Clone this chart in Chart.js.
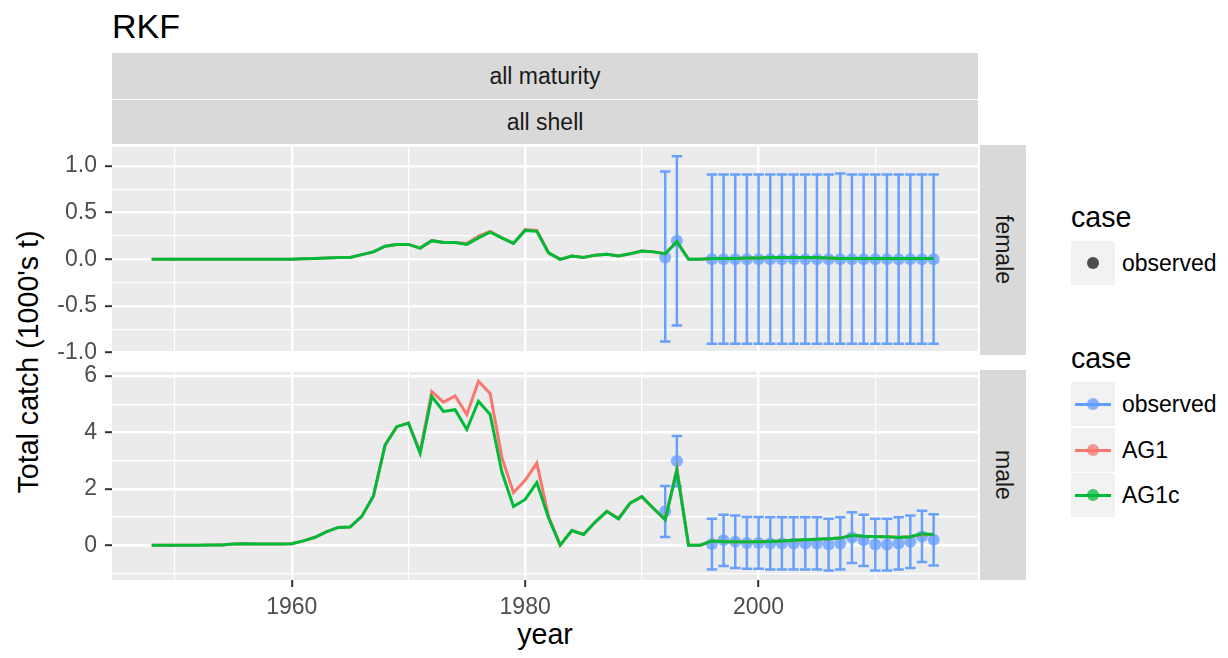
<!DOCTYPE html>
<html><head><meta charset="utf-8">
<script src="https://cdn.jsdelivr.net/npm/chart.js@4.4.1/dist/chart.umd.min.js"></script>
<style>
html,body{margin:0;padding:0;background:#fff;}
body{width:1228px;height:658px;position:relative;overflow:hidden;font-family:"Liberation Sans",Arial,Helvetica,sans-serif;}
canvas{position:absolute;left:0;}
.t{position:absolute;white-space:nowrap;}
.strip{position:absolute;background:#D9D9D9;color:#1A1A1A;font-size:23px;text-align:center;}
.vstrip{display:flex;align-items:center;justify-content:center;writing-mode:vertical-rl;}
.key{position:absolute;left:1071px;width:44px;height:44px;background:#F2F2F2;}
.kline{position:absolute;left:4px;width:36px;top:20.5px;height:3px;}
.kdot{position:absolute;left:16px;top:16px;width:12px;height:12px;border-radius:50%;}
.ltxt{position:absolute;left:1122px;font-size:23px;color:#000;line-height:30px;}
.ltitle{position:absolute;left:1071px;font-size:28.6px;color:#000;line-height:34px;}
</style></head><body>
<div class="t" style="left:112px;top:8px;font-size:34px;line-height:36px;color:#000">RKF</div>
<div class="strip" style="left:112px;top:53px;width:866px;height:46px;line-height:46px">all maturity</div>
<div class="strip" style="left:112px;top:100px;width:866px;height:44px;line-height:44px">all shell</div>
<div class="strip vstrip" style="left:980px;top:145px;width:46px;height:210px">female</div>
<div class="strip vstrip" style="left:980px;top:370px;width:46px;height:210px">male</div>
<div class="t" style="left:28px;top:362px;transform:translate(-50%,-50%) rotate(-90deg);font-size:28.6px;line-height:34px;color:#000">Total catch (1000's t)</div>
<div class="t" style="left:545px;top:634px;transform:translate(-50%,-50%);font-size:28.6px;line-height:34px;color:#000">year</div>

<div class="ltitle" style="top:200px">case</div>
<div class="key" style="top:241px"><div class="kdot" style="background:#4D4D4D"></div></div>
<div class="ltxt" style="top:248px">observed</div>

<div class="ltitle" style="top:341px">case</div>
<div class="key" style="top:382px"><div class="kline" style="background:#619CFF"></div><div class="kdot" style="background:rgba(97,156,255,0.75)"></div></div>
<div class="ltxt" style="top:389px">observed</div>
<div class="key" style="top:428px"><div class="kline" style="background:#F8766D"></div><div class="kdot" style="background:rgba(248,118,109,0.75)"></div></div>
<div class="ltxt" style="top:435px">AG1</div>
<div class="key" style="top:473px"><div class="kline" style="background:#00BA38"></div><div class="kdot" style="background:rgba(0,186,56,0.75)"></div></div>
<div class="ltxt" style="top:480px">AG1c</div>

<canvas id="female" width="978" height="250" style="top:125px"></canvas>
<canvas id="male" width="978" height="280" style="top:350px"></canvas>

<script>
// ---------- data ----------
const years = [1948,1949,1950,1951,1952,1953,1954,1955,1956,1957,1958,1959,1960,1961,1962,1963,1964,1965,1966,1967,
  1968,1969,1970,1971,1972,1973,1974,1975,1976,1977,1978,1979,1980,1981,1982,1983,1984,1985,1986,1987,
  1988,1989,1990,1991,1992,1993,1994,1995,1996,1997,1998,1999,2000,2001,2002,2003,2004,2005,2006,2007,
  2008,2009,2010,2011,2012,2013,2014,2015];

const femaleAG1 = [0,0,0,0,0,0,0,0,0,0,0,0,0,0.005,0.01,0.015,0.02,0.02,0.05,0.08,
  0.14,0.16,0.16,0.12,0.2,0.18,0.18,0.17,0.25,0.3,0.23,0.17,0.32,0.31,0.07,0.0,0.035,0.02,0.045,0.055,
  0.035,0.06,0.09,0.08,0.06,0.19,0.0,0.0,0.01,0.01,0.01,0.015,0.015,0.02,0.02,0.02,0.02,0.02,0.015,0.01,
  0.01,0.01,0.01,0.01,0.01,0.01,0.01,0.01];
const femaleAG1c = [0,0,0,0,0,0,0,0,0,0,0,0,0,0.005,0.01,0.015,0.02,0.02,0.05,0.08,
  0.14,0.16,0.16,0.12,0.2,0.18,0.18,0.16,0.23,0.29,0.23,0.17,0.31,0.3,0.07,0.0,0.035,0.02,0.045,0.055,
  0.035,0.06,0.09,0.08,0.06,0.19,0.0,0.0,0.01,0.01,0.01,0.015,0.015,0.02,0.02,0.02,0.02,0.02,0.015,0.01,
  0.01,0.01,0.01,0.01,0.01,0.01,0.01,0.01];

const maleAG1 = [0,0,0,0,0,0.01,0.01,0.04,0.05,0.04,0.04,0.04,0.05,0.15,0.28,0.48,0.63,0.64,1.02,1.74,
  3.55,4.2,4.33,3.3,5.44,5.07,5.29,4.63,5.81,5.38,3.12,1.86,2.3,2.91,1.02,0.0,0.52,0.38,0.82,1.2,
  0.95,1.5,1.72,1.3,0.92,2.72,0.0,0.0,0.15,0.12,0.12,0.12,0.12,0.13,0.15,0.17,0.19,0.21,0.23,0.25,
  0.35,0.32,0.31,0.3,0.28,0.3,0.38,0.37];
const maleAG1c = [0,0,0,0,0,0.01,0.01,0.04,0.05,0.04,0.04,0.04,0.05,0.15,0.28,0.48,0.63,0.64,1.02,1.74,
  3.55,4.2,4.33,3.26,5.27,4.74,4.8,4.1,5.1,4.63,2.6,1.37,1.62,2.22,0.97,0.0,0.52,0.38,0.82,1.2,
  0.93,1.49,1.72,1.3,0.9,2.65,0.0,0.0,0.15,0.12,0.12,0.12,0.12,0.13,0.15,0.17,0.19,0.21,0.23,0.25,
  0.35,0.32,0.3,0.3,0.27,0.3,0.4,0.38];

const obsYears = [1992,1993,1996,1997,1998,1999,2000,2001,2002,2003,2004,2005,2006,2007,2008,2009,2010,2011,2012,2013,2014,2015];
const femaleObs = [0.02,0.2,0,0,0,0,0,0,0,0,0,0,0,0,0,0,0,0,0,0,0,0];
const femaleHi  = [0.94,1.105,0.91,0.91,0.91,0.91,0.91,0.91,0.91,0.91,0.91,0.91,0.91,0.92,0.91,0.91,0.91,0.91,0.91,0.91,0.91,0.91];
const femaleLo  = [-0.88,-0.71,-0.905,-0.905,-0.905,-0.905,-0.905,-0.905,-0.905,-0.905,-0.905,-0.905,-0.905,-0.905,-0.905,-0.905,-0.905,-0.905,-0.905,-0.905,-0.905,-0.905];
const maleObs = [1.2,2.98,0.04,0.17,0.12,0.08,0.08,0.06,0.06,0.06,0.06,0.06,0.02,0.06,0.27,0.17,0.02,0.02,0.06,0.12,0.31,0.19];
const maleHi  = [2.1,3.87,0.94,1.08,1.05,1.0,1.0,0.99,0.99,0.99,0.99,0.99,0.94,0.99,1.17,1.08,0.94,0.94,0.99,1.05,1.22,1.1];
const maleLo  = [0.29,2.09,-0.86,-0.74,-0.81,-0.84,-0.84,-0.86,-0.86,-0.86,-0.86,-0.86,-0.9,-0.86,-0.63,-0.74,-0.9,-0.9,-0.86,-0.81,-0.6,-0.72];

// tick values / labels
const xMajorTicks = [1960,1980,2000];
const xMinorTicks = [1950,1970,1990,2010];
const femaleMajorTicks = [-1,-0.5,0,0.5,1];
const femaleTickLabels = ['-1.0','-0.5','0.0','0.5','1.0'];
const femaleMinorTicks = [-0.75,-0.25,0.25,0.75];
const maleMajorTicks = [0,2,4,6];
const maleTickLabels = ['0','2','4','6'];
const maleMinorTicks = [-1,1,3,5];

// ---------- drawing ----------
Chart.defaults.font.family = '"Liberation Sans", Arial, Helvetica, sans-serif';

const panelBg = {
  id: 'panelBg',
  beforeDraw(chart) {
    const a = chart.chartArea, c = chart.ctx;
    c.save(); c.fillStyle = '#EBEBEB';
    c.fillRect(a.left, a.top, a.right - a.left, a.bottom - a.top);
    c.restore();
  }
};
const errorBars = {
  id: 'errorBars',
  beforeDatasetsDraw(chart, args, opts) {
    const xs = chart.scales.x, ys = chart.scales.y, c = chart.ctx;
    c.save();
    c.strokeStyle = 'rgba(97,156,255,0.95)';
    c.lineWidth = 2.5;
    opts.x.forEach((x, i) => {
      const px = xs.getPixelForValue(x);
      const l = xs.getPixelForValue(x - 0.45), r = xs.getPixelForValue(x + 0.45);
      const hi = ys.getPixelForValue(opts.hi[i]), lo = ys.getPixelForValue(opts.lo[i]);
      c.beginPath();
      c.moveTo(px, hi); c.lineTo(px, lo);
      c.moveTo(l, hi); c.lineTo(r, hi);
      c.moveTo(l, lo); c.lineTo(r, lo);
      c.stroke();
    });
    c.restore();
  }
};

function pts(xs, ys) { return xs.map((x, i) => ({x: x, y: ys[i]})); }

function makePanel(id, p) {
  const yGrid = p.yMajor.concat(p.yMinor).sort((a, b) => a - b);
  const xGrid = xMajorTicks.concat(xMinorTicks).sort((a, b) => a - b);
  return new Chart(document.getElementById(id), {
    type: 'line',
    data: {
      datasets: [
        {label: 'observed', data: pts(obsYears, p.obs), showLine: false, pointRadius: 6, pointHoverRadius: 6,
         pointBackgroundColor: 'rgba(97,156,255,0.75)', pointBorderWidth: 0, order: 2},
        {label: 'AG1', data: pts(years, p.ag1), borderColor: '#F8766D', borderWidth: 3, pointRadius: 0, tension: 0, order: 1},
        {label: 'AG1c', data: pts(years, p.ag1c), borderColor: '#00BA38', borderWidth: 3, pointRadius: 0, tension: 0, order: 0}
      ]
    },
    options: {
      responsive: false, animation: false, devicePixelRatio: 1,
      layout: {autoPadding: false, padding: {top: 20, bottom: p.showX ? 0 : 20, left: 0, right: 0}},
      plugins: {legend: {display: false}, tooltip: {enabled: false},
        errorBars: {x: obsYears, lo: p.lo, hi: p.hi}},
      scales: {
        x: {
          type: 'linear', min: 1944.6, max: 2018.8,
          afterBuildTicks: ax => { ax.ticks = xGrid.map(v => ({value: v})); },
          afterFit: ax => { ax.height = p.showX ? 50 : 0; },
          ticks: {display: p.showX, autoSkip: false, maxRotation: 0, padding: 7, color: '#4D4D4D', font: {size: 23},
            callback: v => xMajorTicks.includes(v) ? String(v) : ''},
          grid: {color: '#FFFFFF', lineWidth: c => xMajorTicks.includes(c.tick.value) ? 2.4 : 1.2,
            drawTicks: p.showX, tickLength: 7, tickWidth: 2,
            tickColor: c => xMajorTicks.includes(c.tick.value) ? '#333333' : 'rgba(0,0,0,0)'},
          border: {display: false}
        },
        y: {
          type: 'linear', min: p.yMin, max: p.yMax,
          afterBuildTicks: ax => { ax.ticks = yGrid.map(v => ({value: v})); },
          afterFit: ax => { ax.width = 112; },
          ticks: {autoSkip: false, padding: 8, color: '#4D4D4D', font: {size: 23},
            callback: v => { const i = p.yMajor.indexOf(v); return i >= 0 ? p.yLabels[i] : ''; }},
          grid: {color: '#FFFFFF', lineWidth: c => p.yMajor.includes(c.tick.value) ? 2.4 : 1.2,
            tickLength: 7, tickWidth: 2,
            tickColor: c => p.yMajor.includes(c.tick.value) ? '#333333' : 'rgba(0,0,0,0)'},
          border: {display: false}
        }
      }
    },
    plugins: [panelBg, errorBars]
  });
}

makePanel('female', {showX: false, yMin: -1.006, yMax: 1.206, yMajor: femaleMajorTicks, yLabels: femaleTickLabels,
  yMinor: femaleMinorTicks, obs: femaleObs, hi: femaleHi, lo: femaleLo, ag1: femaleAG1, ag1c: femaleAG1c});
makePanel('male', {showX: true, yMin: -1.235, yMax: 6.145, yMajor: maleMajorTicks, yLabels: maleTickLabels,
  yMinor: maleMinorTicks, obs: maleObs, hi: maleHi, lo: maleLo, ag1: maleAG1, ag1c: maleAG1c});
</script>
</body></html>
